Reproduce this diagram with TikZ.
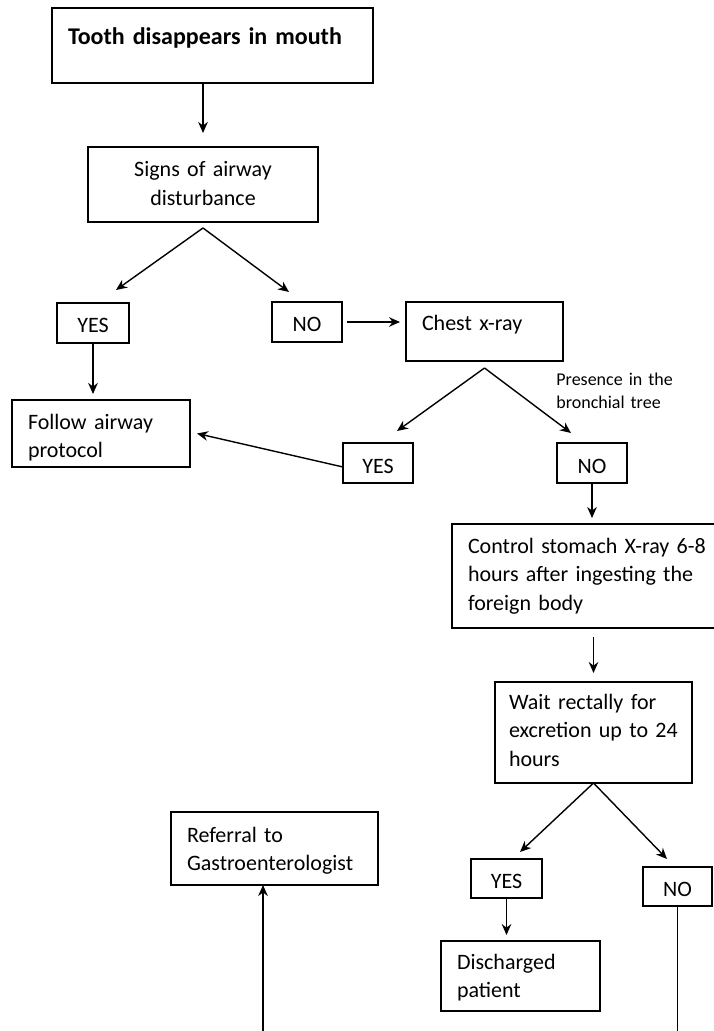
\documentclass[tikz,border=0pt]{standalone}
\usepackage{fontspec}
\setmainfont{Carlito}
\usetikzlibrary{arrows.meta}

\begin{document}
\begin{tikzpicture}[x=0.5pt,y=-0.5pt,>={Stealth[length=5.5pt,width=4.8pt]},
      box/.style={draw,line width=0.9pt,anchor=north west,outer sep=0pt,inner ysep=0pt,inner xsep=8pt,
        align=left,font=\fontsize{11}{14.3}\selectfont},
      answer/.style={box,inner xsep=4pt,align=center,text height=15pt,text depth=5pt},
      arrow/.style={->,line width=0.7pt}]

      \useasboundingbox (0,0) rectangle (713,1031);

      \node[box,font=\bfseries\fontsize{12}{14}\selectfont,text width=144.5pt,text height=18.5pt,text depth=19pt] (tooth) at (52,8) {Tooth disappears in mouth};
      \node[box,align=center,text width=99pt,text height=15pt,text depth=22.5pt] (signs) at (88,147) {Signs of airway\\ disturbance};

      \node[answer,text width=28pt] (yesairway) at (57,303) 	{YES};
      \node[answer,text width=27pt] (noairway) at (272,302) 	{NO};
      \node[box,text width=62.5pt,text height=14.5pt,text depth=15pt] (chest) at (406,302) {Chest x-ray};
      \node[box,text width=73pt,text height=14.5pt,text depth=19pt] (follow) at (12,400) {Follow airway\\ protocol};

      \node[anchor=north west,inner sep=0pt,align=left,text width=62pt,text height=7pt,
        font=\fontsize{9}{11.5}\selectfont] (presence) at (556,371) {Presence in the\\ bronchial tree};
      \node[answer,text width=27pt] (yeschest) at (343,443) 	{YES};
      \node[answer,text width=27pt] (nochest) at (557,443) 	{NO};

      \node[box,text width=123pt,text height=14.5pt,text depth=37.5pt] (stomach) at (452,524) {Control stomach X-ray 6-8\\ hours after ingesting the\\ foreign body};
      \node[box,inner xsep=7pt,text width=84.5pt,text height=13.5pt,text depth=37pt] (wait) at (495,682) {Wait rectally for\\ excretion up to 24\\ hours};

      \node[box,text width=87.5pt,text height=15pt,text depth=21.5pt] (referral) at (171,812) {Referral to\\ Gastroenterologist};
      \node[answer,text width=27.5pt,text height=14.5pt] (yeswait) at (471,859) 	{YES};
      \node[answer,text width=26.5pt,text height=14.5pt] (nowait) at (643,867) 	{NO};
      \node[box,text width=63.5pt,text height=14pt,text depth=21pt] (discharged) at (441,941) {Discharged\\ patient};

      % loose ends at the lower edge
      \coordinate (gastrofoot) at (263,1031);
      \coordinate (pagefoot) at (0,1031);

      \draw[arrow,shorten >=7pt] (tooth.south -| signs.north) -- (signs.north);
      \draw[arrow,shorten <=2.5pt,shorten >=3pt] (noairway.east) -- (noairway.east -| chest.west);
      \draw[arrow,shorten <=4.5pt,shorten >=4.5pt] (stomach.south -| wait.north) -- (wait.north);
      \draw[arrow] ([yshift=-2pt]yeschest.west) -- ([xshift=3.5pt]follow.east);

      \foreach \from/\to in {yesairway/follow,nochest/stomach,yeswait/discharged}
	\draw[arrow,shorten >=3pt] (\from.south) -- (\from.south |- \to.north);

      \foreach \fork/\gap/\to/\dx/\dy in {signs/3/yesairway/23/-13, signs/3/noairway/-18/-10,
	  chest/3.5/yeschest/19/-12, chest/3.5/nochest/-21/-10,
	  wait/0/yeswait/13.5/-7, wait/0/nowait/-10.5/-8}
	\draw[arrow] ([yshift=-\gap pt]\fork.south) -- ([shift={(\dx,\dy)}]\to.north);

      \draw[line width=0.7pt] (nowait.south) -- (nowait.south |- pagefoot);
      \draw[arrow] (gastrofoot) -- (gastrofoot |- referral.south);

\end{tikzpicture}
\end{document}
